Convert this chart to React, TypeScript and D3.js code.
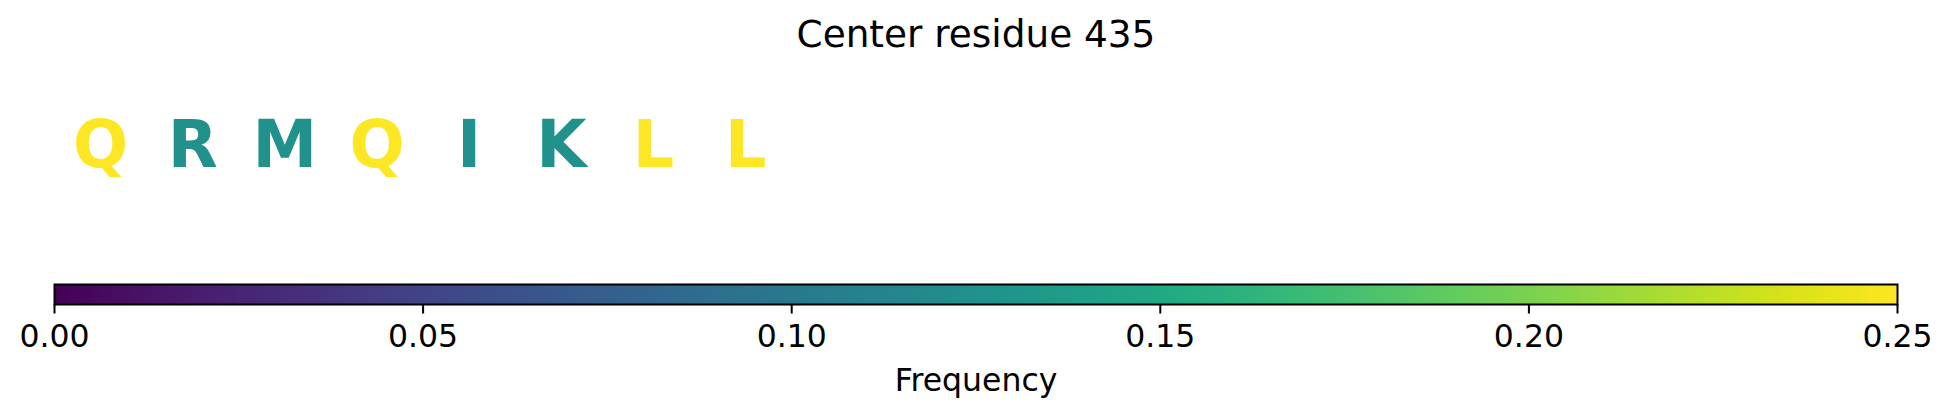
import React from "react";
import * as d3 from "d3";

const title = "Center residue 435";
const residues = ["Q", "R", "M", "Q", "I", "K", "L", "L"];
const frequencies = [0.25, 0.125, 0.125, 0.25, 0.125, 0.125, 0.25, 0.25];
const tickValues = [0, 0.05, 0.1, 0.15, 0.2, 0.25];
const colorDomain = [0, 0.25];
const xLabel = "Frequency";

const W = 1952;
const H = 416;
const left = 54.5;
const right = 1897.5;
const barTop = 284.5;
const barBottom = 304.5;

export default function App() {
  const xPos = d3.scaleLinear().domain([0, 20]).range([left, right]);
  const cb = d3.scaleLinear().domain(colorDomain).range([left, right]);
  const color = d3.scaleSequential(d3.interpolateViridis).domain(colorDomain);
  const stops = d3.range(0, 1.0001, 0.02);
  const font = "DejaVu Sans, sans-serif";
  return (
    <svg
      width={W}
      height={H}
      style={{ position: "absolute", left: 0, top: 0, background: "#fff" }}
    >
      <defs>
        <linearGradient id="viridis" x1="0" x2="1" y1="0" y2="0">
          {stops.map((s, i) => (
            <stop key={i} offset={s} stopColor={d3.interpolateViridis(s)} />
          ))}
        </linearGradient>
      </defs>
      <rect x={0} y={0} width={W} height={H} fill="#fff" />
      <text
        x={(left + right) / 2}
        y={47}
        textAnchor="middle"
        fontFamily={font}
        fontSize={37.4}
        fill="#000"
      >
        {title}
      </text>
      {residues.map((r, i) => (
        <text
          key={i}
          x={xPos(i + 0.5)}
          y={166.7}
          textAnchor="middle"
          fontFamily={font}
          fontWeight="bold"
          fontSize={65}
          fill={color(frequencies[i])}
        >
          {r}
        </text>
      ))}
      <rect
        x={left}
        y={barTop}
        width={right - left}
        height={barBottom - barTop}
        fill="url(#viridis)"
        stroke="#000"
        strokeWidth={2}
      />
      {tickValues.map((t, i) => (
        <g key={i}>
          <line
            x1={cb(t)}
            x2={cb(t)}
            y1={barBottom}
            y2={barBottom + 9}
            stroke="#000"
            strokeWidth={2}
          />
          <text
            x={cb(t)}
            y={347.3}
            textAnchor="middle"
            fontFamily={font}
            fontSize={31.5}
            fill="#000"
          >
            {d3.format(".2f")(t)}
          </text>
        </g>
      ))}
      <text
        x={(left + right) / 2}
        y={390.7}
        textAnchor="middle"
        fontFamily={font}
        fontSize={31.5}
        fill="#000"
      >
        {xLabel}
      </text>
    </svg>
  );
}
